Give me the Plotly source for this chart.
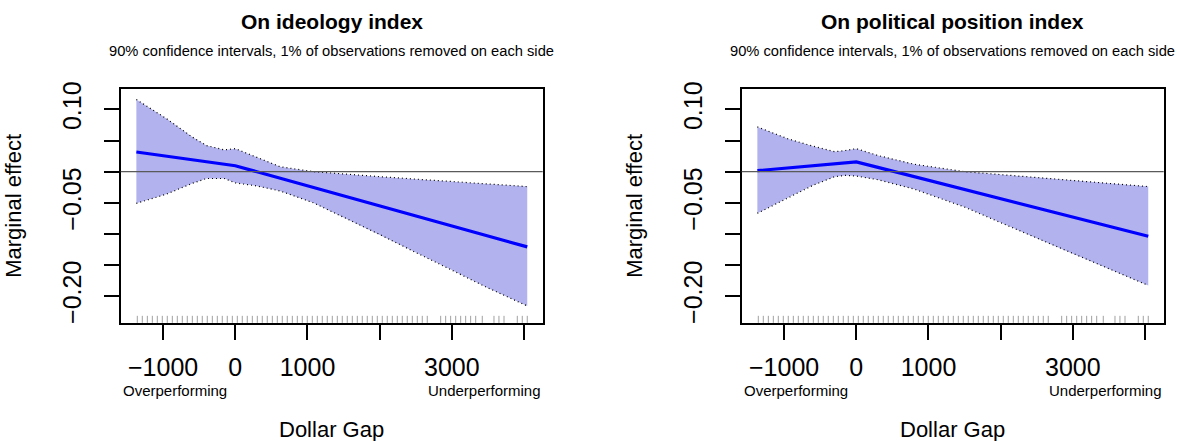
import plotly.graph_objects as go

# ---------------- data ----------------
titles = ["On ideology index", "On political position index"]
subtitle = "90% confidence intervals, 1% of observations removed on each side"

# left panel: ideology index
x_left = [-1370, -950, -600, -400, -150, 0, 300, 620, 1080, 1500, 2000, 2500, 3000, 3500, 4044]
me_left = [0.0316, 0.0248, 0.0192, 0.0160, 0.0119, 0.0095, -0.0002, -0.0105, -0.0254,
           -0.0389, -0.0550, -0.0712, -0.0873, -0.1035, -0.1210]
hi_left = [0.116, 0.085, 0.056, 0.042, 0.035, 0.037, 0.023, 0.008, 0.000,
           -0.004, -0.008, -0.012, -0.016, -0.020, -0.024]
lo_left = [-0.051, -0.036, -0.019, -0.011, -0.011, -0.018, -0.023, -0.031, -0.050,
           -0.073, -0.101, -0.130, -0.158, -0.187, -0.216]

# right panel: political position index
x_right = [-1370, -950, -600, -300, -150, 0, 300, 800, 1500, 2000, 2500, 3000, 3500, 4044]
me_right = [0.0016, 0.0060, 0.0096, 0.0127, 0.0142, 0.0158, 0.0069, -0.0079, -0.0286,
            -0.0434, -0.0583, -0.0731, -0.0879, -0.1040]
hi_right = [0.072, 0.053, 0.041, 0.032, 0.034, 0.037, 0.026, 0.012, 0.000,
            -0.0045, -0.009, -0.014, -0.019, -0.024]
lo_right = [-0.067, -0.042, -0.022, -0.008, -0.006, -0.007, -0.013, -0.028, -0.057,
            -0.082, -0.107, -0.132, -0.157, -0.183]

# rug of observed Dollar Gap values
rug_x = [-1357, -1288, -1218, -1149, -1080, -1011, -942, -872, -803, -734, -665, -595,
         -526, -457, -388, -318, -249, -180, -111, -41, 28, 97, 166, 236, 305, 374, 443,
         513, 582, 651, 720, 790, 859, 928, 997, 1067, 1136, 1205, 1274, 1344, 1413, 1482,
         1551, 1621, 1690, 1759, 1828, 1898, 1967, 2036, 2105, 2175, 2244, 2313, 2382,
         2452, 2521, 2590, 2659, 2845, 2914, 2983, 3053, 3122, 3191, 3260, 3330, 3421,
         3583, 3652, 3722, 3906, 3975, 4044]

x_tickvals = [-1000, 0, 1000, 2000, 3000, 4000]
x_ticktext = ["\u22121000", "0", "1000", "", "3000", ""]
y_tickvals = [0.10, 0.05, 0.0, -0.05, -0.10, -0.15, -0.20]
y_ticktext = ["0.10", "", "", "\u22120.05", "", "", "\u22120.20"]

x_range = [-1587, 4258]
y_range = [-0.2432, 0.1333]

# ---------------- figure ----------------
FONT = "Liberation Sans, Arial, Helvetica, sans-serif"
W, H = 1178, 441
fig = go.Figure()

panels = [
    ("x", "y", x_left, me_left, hi_left, lo_left),
    ("x2", "y2", x_right, me_right, hi_right, lo_right),
]
for xa, ya, xs, me, hi, lo in panels:
    fig.add_trace(go.Scatter(
        x=xs + xs[::-1], y=hi + lo[::-1], xaxis=xa, yaxis=ya,
        mode="lines", fill="toself", fillcolor="rgb(178,178,238)",
        line=dict(width=0, color="rgba(0,0,0,0)"), hoverinfo="skip", showlegend=False))
    for band in (hi, lo):
        fig.add_trace(go.Scatter(
            x=xs, y=band, xaxis=xa, yaxis=ya, mode="lines",
            line=dict(color="black", width=1.2, dash="1px,3px"), showlegend=False))
    fig.add_trace(go.Scatter(
        x=xs, y=me, xaxis=xa, yaxis=ya, mode="lines",
        line=dict(color="#0000ff", width=3.2), showlegend=False))

shapes = []
for xa, ya in (("x", "y"), ("x2", "y2")):
    shapes.append(dict(type="line", xref=xa + " domain", yref=ya, x0=0, x1=1, y0=0, y1=0,
                       line=dict(color="#5a5a5a", width=1.3), layer="above"))
    for v in rug_x:
        shapes.append(dict(type="line", xref=xa, yref=ya + " domain", x0=v, x1=v,
                           y0=0, y1=0.03, line=dict(color="#a0a0a0", width=1)))

ydom = [1 - 321.7 / H, 1 - 83.3 / H]
xdoms = [[120.7 / W, 542.7 / W], [741.7 / W, 1163.7 / W]]

def xaxis(dom, anchor):
    return dict(domain=dom, anchor=anchor, range=x_range, tickvals=x_tickvals,
                ticktext=x_ticktext, ticks="outside", ticklen=15, tickwidth=1.5,
                tickcolor="black", showline=True, linecolor="black", linewidth=1.5,
                mirror=True, showgrid=False, zeroline=False,
                tickfont=dict(family=FONT, size=25, color="black"), ticklabelstandoff=6)

def yaxis(anchor):
    return dict(domain=ydom, anchor=anchor, range=y_range, tickvals=y_tickvals,
                ticktext=y_ticktext, ticks="outside", ticklen=15, tickwidth=1.5,
                tickcolor="black", showline=True, linecolor="black", linewidth=1.5,
                mirror=True, showgrid=False, zeroline=False, tickangle=-90,
                tickfont=dict(family=FONT, size=25, color="black"), ticklabelstandoff=13)

annotations = []
for i, (xa, ya) in enumerate((("x", "y"), ("x2", "y2"))):
    annotations += [
        dict(text="<b>%s</b>" % titles[i], xref=xa + " domain", yref="paper", x=0.5,
             y=1 - 14.5 / H, xanchor="center", yanchor="middle", showarrow=False,
             font=dict(family=FONT, size=21, color="black")),
        dict(text=subtitle, xref=xa + " domain", yref="paper", x=0.5, y=1 - 45.0 / H,
             xanchor="center", yanchor="middle", showarrow=False,
             font=dict(family=FONT, size=14.7, color="black")),
        dict(text="Overperforming", xref=xa + " domain", yref="paper", x=0, y=1 - 391 / H,
             xanchor="left", yanchor="middle", showarrow=False,
             font=dict(family=FONT, size=15, color="black")),
        dict(text="Underperforming", xref=xa + " domain", yref="paper", x=1, y=1 - 391 / H,
             xanchor="right", yanchor="middle", showarrow=False,
             font=dict(family=FONT, size=15, color="black")),
        dict(text="Dollar Gap", xref=xa + " domain", yref="paper", x=0.5, y=1 - 430 / H,
             xanchor="center", yanchor="middle", showarrow=False,
             font=dict(family=FONT, size=22, color="black")),
        dict(text="Marginal effect", xref="paper", yref=ya + " domain",
             x=(14 + 621 * i) / W, y=0.5, xanchor="center", yanchor="middle",
             textangle=-90, showarrow=False, font=dict(family=FONT, size=22, color="black")),
    ]

fig.update_layout(
    width=W, height=H, margin=dict(l=0, r=0, t=0, b=0),
    paper_bgcolor="white", plot_bgcolor="white", showlegend=False,
    xaxis=xaxis(xdoms[0], "y"), yaxis=yaxis("x"),
    xaxis2=xaxis(xdoms[1], "y2"), yaxis2=yaxis("x2"),
    shapes=shapes, annotations=annotations,
)

fig.write_html(
    "out.html",
    config={"displayModeBar": False},
    post_script="document.body.style.margin='0px';"
                "document.documentElement.style.overflow='hidden';",
)
